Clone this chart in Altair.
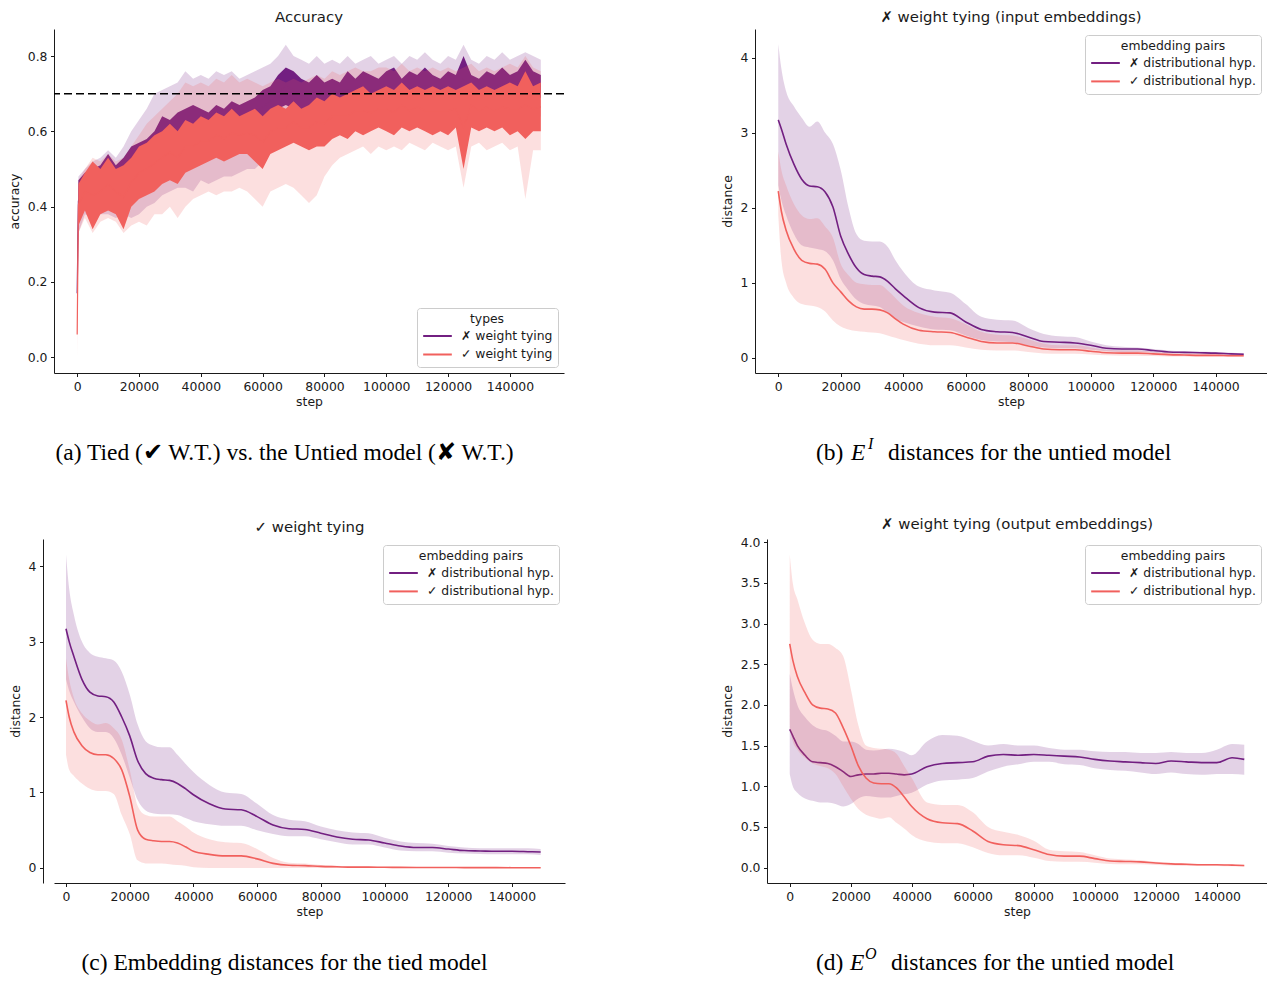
import altair as alt
import pandas as pd

PURPLE = "#721f81"
RED = "#f1605d"

# ---------------- panel (a): accuracy ----------------
A_STEPS = [0, 400] + list(range(2500, 150001, 2500))
A_SERIES = ["✗ weight tying", "✓ weight tying"]
# envelope of the (noisy) mean line, untied model
A_UNTIED_LO = [0.17, 0.36, 0.40, 0.39, 0.40, 0.41, 0.40, 0.42, 0.45, 0.47, 0.48, 0.50, 0.53, 0.55, 0.54, 0.56,
               0.55, 0.57, 0.56, 0.57, 0.58, 0.58, 0.59, 0.60, 0.61, 0.62, 0.64, 0.66, 0.67, 0.66, 0.65, 0.64,
               0.63, 0.65, 0.66, 0.67, 0.66, 0.67, 0.68, 0.67, 0.68, 0.67, 0.68, 0.68, 0.67, 0.68, 0.67, 0.68,
               0.69, 0.68, 0.67, 0.68, 0.69, 0.68, 0.67, 0.68, 0.69, 0.68, 0.67, 0.69, 0.68, 0.69]
A_UNTIED_HI = [0.17, 0.47, 0.49, 0.50, 0.51, 0.54, 0.51, 0.53, 0.56, 0.57, 0.58, 0.60, 0.64, 0.63, 0.65, 0.66,
               0.67, 0.66, 0.65, 0.67, 0.66, 0.68, 0.67, 0.68, 0.69, 0.71, 0.72, 0.75, 0.77, 0.76, 0.74, 0.73,
               0.75, 0.73, 0.74, 0.73, 0.76, 0.74, 0.76, 0.75, 0.74, 0.76, 0.77, 0.74, 0.76, 0.75, 0.77, 0.75,
               0.74, 0.76, 0.75, 0.80, 0.75, 0.74, 0.76, 0.75, 0.77, 0.75, 0.76, 0.79, 0.76, 0.75]
A_UNTIED_CI_LO = [0.10, 0.33, 0.38, 0.37, 0.38, 0.38, 0.37, 0.38, 0.37, 0.38, 0.40, 0.41, 0.43, 0.44, 0.45, 0.45,
                  0.44, 0.47, 0.46, 0.47, 0.48, 0.48, 0.49, 0.50, 0.50, 0.52, 0.55, 0.58, 0.59, 0.60, 0.60, 0.59,
                  0.60, 0.60, 0.61, 0.62, 0.61, 0.62, 0.63, 0.62, 0.63, 0.62, 0.63, 0.63, 0.62, 0.63, 0.62, 0.63,
                  0.64, 0.63, 0.62, 0.63, 0.64, 0.63, 0.62, 0.63, 0.64, 0.63, 0.62, 0.63, 0.63, 0.64]
A_UNTIED_CI_HI = [0.25, 0.48, 0.50, 0.52, 0.53, 0.55, 0.53, 0.56, 0.60, 0.63, 0.66, 0.70, 0.71, 0.72, 0.73, 0.76,
                  0.74, 0.75, 0.74, 0.76, 0.75, 0.76, 0.74, 0.75, 0.76, 0.77, 0.78, 0.80, 0.83, 0.80, 0.79, 0.78,
                  0.80, 0.78, 0.79, 0.78, 0.80, 0.78, 0.79, 0.80, 0.78, 0.79, 0.80, 0.78, 0.80, 0.79, 0.81, 0.79,
                  0.78, 0.80, 0.79, 0.83, 0.79, 0.78, 0.80, 0.79, 0.81, 0.79, 0.80, 0.81, 0.80, 0.79]
# tied model
A_TIED_LO = [0.06, 0.35, 0.39, 0.34, 0.38, 0.39, 0.38, 0.34, 0.40, 0.42, 0.43, 0.44, 0.46, 0.47, 0.46, 0.49,
             0.50, 0.51, 0.52, 0.53, 0.52, 0.53, 0.54, 0.54, 0.52, 0.50, 0.54, 0.55, 0.56, 0.57, 0.56, 0.55,
             0.56, 0.56, 0.58, 0.59, 0.58, 0.60, 0.59, 0.60, 0.61, 0.60, 0.59, 0.61, 0.60, 0.61, 0.60, 0.59,
             0.60, 0.59, 0.61, 0.50, 0.61, 0.60, 0.61, 0.60, 0.61, 0.59, 0.60, 0.58, 0.60, 0.60]
A_TIED_HI = [0.06, 0.46, 0.49, 0.52, 0.50, 0.53, 0.50, 0.51, 0.53, 0.56, 0.57, 0.59, 0.60, 0.62, 0.60, 0.63,
             0.62, 0.64, 0.63, 0.65, 0.64, 0.66, 0.64, 0.65, 0.66, 0.64, 0.66, 0.67, 0.66, 0.68, 0.66, 0.67,
             0.69, 0.68, 0.70, 0.69, 0.70, 0.71, 0.72, 0.70, 0.71, 0.72, 0.71, 0.73, 0.71, 0.72, 0.71, 0.72,
             0.71, 0.72, 0.71, 0.72, 0.73, 0.71, 0.72, 0.71, 0.72, 0.73, 0.72, 0.76, 0.72, 0.73]
A_TIED_CI_LO = [0.00, 0.33, 0.37, 0.33, 0.36, 0.37, 0.36, 0.33, 0.35, 0.36, 0.35, 0.38, 0.38, 0.40, 0.37, 0.40,
                0.42, 0.43, 0.44, 0.43, 0.44, 0.44, 0.45, 0.44, 0.42, 0.40, 0.44, 0.45, 0.46, 0.45, 0.43, 0.41,
                0.43, 0.48, 0.51, 0.53, 0.54, 0.55, 0.56, 0.54, 0.56, 0.55, 0.56, 0.55, 0.57, 0.56, 0.55, 0.57,
                0.56, 0.55, 0.56, 0.45, 0.56, 0.57, 0.55, 0.56, 0.57, 0.55, 0.56, 0.42, 0.55, 0.55]
A_TIED_CI_HI = [0.30, 0.47, 0.50, 0.53, 0.52, 0.54, 0.52, 0.53, 0.56, 0.59, 0.62, 0.64, 0.66, 0.68, 0.70, 0.73,
                0.72, 0.73, 0.72, 0.74, 0.73, 0.75, 0.73, 0.74, 0.73, 0.72, 0.73, 0.74, 0.73, 0.74, 0.73, 0.74,
                0.75, 0.74, 0.76, 0.75, 0.76, 0.77, 0.76, 0.76, 0.77, 0.77, 0.76, 0.78, 0.76, 0.77, 0.76, 0.77,
                0.76, 0.77, 0.76, 0.77, 0.78, 0.76, 0.77, 0.76, 0.77, 0.78, 0.77, 0.80, 0.77, 0.76]
A_THRESHOLD = 0.7

# ---------------- distance panels ----------------
D_STEPS = [0, 1000] + list(range(2500, 40001, 2500)) + list(range(45000, 145001, 5000)) + [149000]
D_SERIES = ["✗ distributional hyp.", "✓ distributional hyp."]

# (b) untied model, input embeddings
B_NO_MID = [3.17, 3.05, 2.85, 2.58, 2.38, 2.29, 2.28, 2.21, 2.01, 1.62, 1.38, 1.20, 1.11, 1.09, 1.08, 1.02, 0.92, 0.83,
            0.67, 0.61, 0.60, 0.48, 0.38, 0.35, 0.34, 0.28, 0.22, 0.21, 0.20, 0.17, 0.13, 0.12, 0.12, 0.10, 0.08,
            0.075, 0.07, 0.065, 0.055, 0.05]
B_NO_LO = [2.30, 2.10, 1.90, 1.65, 1.50, 1.47, 1.45, 1.42, 1.30, 1.05, 0.90, 0.78, 0.72, 0.70, 0.68, 0.60, 0.52, 0.48,
           0.42, 0.38, 0.37, 0.30, 0.24, 0.22, 0.21, 0.17, 0.14, 0.13, 0.13, 0.11, 0.09, 0.08, 0.08, 0.07, 0.06,
           0.055, 0.05, 0.045, 0.04, 0.035]
B_NO_HI = [4.18, 3.85, 3.55, 3.35, 3.20, 3.08, 3.15, 3.00, 2.85, 2.50, 2.00, 1.65, 1.56, 1.55, 1.55, 1.48, 1.30, 1.15,
           0.95, 0.90, 0.87, 0.72, 0.55, 0.51, 0.50, 0.40, 0.32, 0.29, 0.28, 0.22, 0.17, 0.15, 0.14, 0.12, 0.10,
           0.09, 0.085, 0.08, 0.07, 0.065]
B_YES_MID = [2.22, 1.95, 1.70, 1.45, 1.30, 1.26, 1.25, 1.18, 1.00, 0.88, 0.76, 0.68, 0.65, 0.65, 0.64, 0.60, 0.52, 0.45,
             0.37, 0.35, 0.34, 0.28, 0.22, 0.20, 0.20, 0.16, 0.12, 0.11, 0.11, 0.09, 0.07, 0.065, 0.065, 0.055, 0.045,
             0.04, 0.035, 0.035, 0.03, 0.03]
B_YES_LO = [1.90, 1.30, 1.00, 0.80, 0.72, 0.70, 0.68, 0.62, 0.50, 0.42, 0.38, 0.36, 0.35, 0.34, 0.33, 0.30, 0.27, 0.24,
            0.19, 0.17, 0.17, 0.14, 0.11, 0.10, 0.10, 0.08, 0.06, 0.055, 0.055, 0.045, 0.035, 0.03, 0.03, 0.025, 0.02,
            0.02, 0.015, 0.015, 0.015, 0.015]
B_YES_HI = [2.75, 2.50, 2.30, 2.05, 1.90, 1.85, 1.86, 1.75, 1.60, 1.25, 1.10, 1.00, 0.98, 0.97, 0.97, 0.90, 0.80, 0.70,
            0.60, 0.55, 0.53, 0.45, 0.35, 0.31, 0.30, 0.25, 0.19, 0.17, 0.17, 0.14, 0.11, 0.10, 0.10, 0.08, 0.07,
            0.06, 0.055, 0.05, 0.045, 0.04]

# (c) tied model
C_NO_MID = [3.17, 3.00, 2.80, 2.50, 2.33, 2.28, 2.27, 2.20, 2.00, 1.75, 1.42, 1.25, 1.19, 1.17, 1.16, 1.12, 1.05, 0.97,
            0.85, 0.78, 0.77, 0.68, 0.57, 0.52, 0.51, 0.46, 0.41, 0.38, 0.37, 0.33, 0.29, 0.27, 0.27, 0.25, 0.23,
            0.225, 0.22, 0.22, 0.215, 0.21]
C_NO_LO = [2.50, 2.35, 2.20, 2.00, 1.85, 1.80, 1.80, 1.72, 1.50, 1.20, 0.90, 0.76, 0.72, 0.71, 0.71, 0.70, 0.66, 0.62,
           0.58, 0.56, 0.56, 0.50, 0.45, 0.42, 0.42, 0.38, 0.34, 0.31, 0.31, 0.27, 0.23, 0.22, 0.22, 0.20, 0.19,
           0.185, 0.18, 0.18, 0.18, 0.17]
C_NO_HI = [4.15, 3.70, 3.35, 3.00, 2.85, 2.80, 2.78, 2.75, 2.60, 2.30, 1.90, 1.68, 1.62, 1.60, 1.60, 1.50, 1.38, 1.27,
           1.10, 1.00, 0.98, 0.85, 0.70, 0.64, 0.62, 0.55, 0.50, 0.47, 0.46, 0.40, 0.35, 0.33, 0.32, 0.29, 0.27,
           0.26, 0.26, 0.26, 0.26, 0.25]
C_YES_MID = [2.22, 2.00, 1.80, 1.62, 1.53, 1.50, 1.50, 1.45, 1.30, 0.95, 0.50, 0.38, 0.36, 0.35, 0.35, 0.33, 0.28, 0.22,
             0.18, 0.16, 0.16, 0.12, 0.06, 0.035, 0.03, 0.02, 0.015, 0.01, 0.01, 0.008, 0.007, 0.006, 0.005, 0.005,
             0.004, 0.004, 0.004, 0.003, 0.003, 0.003]
C_YES_LO = [1.50, 1.30, 1.22, 1.12, 1.05, 1.02, 1.02, 0.98, 0.70, 0.45, 0.10, 0.06, 0.06, 0.06, 0.05, 0.04, 0.03, 0.01,
            0.0, 0.0, 0.0, 0.0, 0.0, 0.0, 0.0, 0.0, 0.0, 0.0, 0.0, 0.0, 0.0, 0.0, 0.0, 0.0, 0.0, 0.0, 0.0, 0.0, 0.0,
            0.0]
C_YES_HI = [2.78, 2.50, 2.25, 2.05, 1.95, 1.90, 1.92, 1.85, 1.70, 1.30, 0.82, 0.70, 0.68, 0.68, 0.68, 0.62, 0.55, 0.47,
            0.38, 0.34, 0.33, 0.25, 0.13, 0.07, 0.06, 0.04, 0.03, 0.02, 0.02, 0.015, 0.013, 0.012, 0.011, 0.01, 0.01,
            0.01, 0.009, 0.009, 0.008, 0.008]

# (d) untied model, output embeddings
E_NO_MID = [1.70, 1.62, 1.50, 1.38, 1.30, 1.29, 1.28, 1.24, 1.18, 1.12, 1.14, 1.15, 1.15, 1.16, 1.16, 1.15, 1.14, 1.15,
            1.24, 1.28, 1.29, 1.30, 1.37, 1.39, 1.38, 1.39, 1.38, 1.37, 1.36, 1.33, 1.31, 1.30, 1.29, 1.28, 1.31,
            1.30, 1.29, 1.29, 1.35, 1.33]
E_NO_LO = [1.15, 1.00, 0.92, 0.85, 0.82, 0.80, 0.80, 0.78, 0.75, 0.78, 0.85, 0.88, 0.87, 0.86, 0.86, 0.88, 0.90, 0.92,
           1.02, 1.07, 1.08, 1.10, 1.18, 1.24, 1.27, 1.30, 1.30, 1.27, 1.26, 1.22, 1.20, 1.19, 1.17, 1.15, 1.17,
           1.15, 1.14, 1.15, 1.15, 1.14]
E_NO_HI = [2.38, 2.20, 2.00, 1.85, 1.75, 1.70, 1.68, 1.62, 1.55, 1.55, 1.52, 1.45, 1.44, 1.45, 1.46, 1.45, 1.42, 1.38,
           1.55, 1.63, 1.62, 1.56, 1.50, 1.52, 1.50, 1.50, 1.47, 1.45, 1.45, 1.43, 1.42, 1.42, 1.41, 1.41, 1.42,
           1.41, 1.41, 1.45, 1.52, 1.51]
E_YES_MID = [2.75, 2.55, 2.35, 2.15, 2.00, 1.96, 1.95, 1.90, 1.72, 1.50, 1.25, 1.10, 1.04, 1.03, 1.03, 0.98, 0.87, 0.75,
             0.60, 0.55, 0.54, 0.45, 0.32, 0.28, 0.27, 0.22, 0.16, 0.14, 0.14, 0.11, 0.08, 0.075, 0.07, 0.055, 0.045,
             0.04, 0.035, 0.035, 0.03, 0.025]
E_YES_LO = [1.70, 1.55, 1.45, 1.35, 1.28, 1.25, 1.22, 1.15, 1.00, 0.85, 0.72, 0.65, 0.62, 0.60, 0.62, 0.55, 0.48, 0.40,
            0.32, 0.30, 0.30, 0.25, 0.18, 0.15, 0.15, 0.12, 0.08, 0.07, 0.07, 0.06, 0.045, 0.04, 0.04, 0.03, 0.025,
            0.02, 0.02, 0.02, 0.015, 0.01]
E_YES_HI = [3.85, 3.50, 3.30, 3.00, 2.80, 2.75, 2.75, 2.70, 2.60, 2.20, 1.75, 1.50, 1.47, 1.46, 1.45, 1.40, 1.25, 1.10,
            0.80, 0.77, 0.77, 0.68, 0.50, 0.44, 0.40, 0.33, 0.22, 0.20, 0.19, 0.15, 0.11, 0.10, 0.09, 0.07, 0.06,
            0.05, 0.045, 0.045, 0.04, 0.03]

X_TICKS = [0, 20000, 40000, 60000, 80000, 100000, 120000, 140000]

SANS = "DejaVu Sans"
SERIF = "Liberation Serif"
SMALL = 12.4
TITLE = 14.9
CAP = 23.5
INK = "#1a1a1a"
PLOT_H = 344
CAP_Y = PLOT_H + 80


def legend(title, orient):
    return alt.Legend(title=title, orient=orient, offset=6, symbolType="stroke", symbolSize=820,
                      symbolStrokeWidth=2, labelFont=SANS, labelFontSize=SMALL, labelColor=INK,
                      titleFont=SANS, titleFontSize=SMALL, titleFontWeight="normal", titleColor=INK,
                      titleAnchor="middle", strokeColor="#cccccc", fillColor="rgba(255,255,255,0.85)",
                      padding=5, cornerRadius=3, clipHeight=15, rowPadding=3.5, titlePadding=3,
                      labelOffset=8)


def x_enc(dom):
    return alt.X("step:Q", scale=alt.Scale(domain=dom, nice=False, zero=False),
                 axis=alt.Axis(values=X_TICKS, format="d", title="step"))


def caption_layers(parts, ypos):
    out = []
    for text, xo, fs, style, dy, align in parts:
        out.append(alt.Chart(pd.DataFrame({"t": [text]})).mark_text(
            font=SERIF, fontSize=fs, fontStyle=style, align=align, baseline="middle",
            color="black", dy=dy).encode(x=alt.value(xo), y=alt.value(ypos), text="t:N"))
    return out


def title_params(text):
    return alt.TitleParams(text, font=SANS, fontSize=TITLE, fontWeight="normal", color=INK,
                           anchor="middle", frame="group", offset=4)


# ---------- build panel (a) ----------
def acc_panel(width):
    xd = [-7500, 157500]
    ys = alt.Scale(domain=[-0.042, 0.872], nice=False, zero=False)
    yax = alt.Axis(values=[0.0, 0.2, 0.4, 0.6, 0.8], format=".1f", title="accuracy")
    sc = alt.Scale(domain=A_SERIES, range=[PURPLE, RED])
    layers = []
    groups = [(A_SERIES[0], PURPLE, A_UNTIED_LO, A_UNTIED_HI, A_UNTIED_CI_LO, A_UNTIED_CI_HI),
              (A_SERIES[1], RED, A_TIED_LO, A_TIED_HI, A_TIED_CI_LO, A_TIED_CI_HI)]
    for name, col, lo, hi, clo, chi in groups:
        df = pd.DataFrame({"step": A_STEPS, "series": name, "lo": lo, "hi": hi, "clo": clo, "chi": chi})
        base = alt.Chart(df)
        layers.append(base.mark_area(opacity=0.2, color=col).encode(
            x=x_enc(xd), y=alt.Y("clo:Q", scale=ys, axis=yax), y2="chi:Q"))
        layers.append(base.mark_area(opacity=1, color=col).encode(
            x=x_enc(xd), y=alt.Y("lo:Q", scale=ys, axis=yax), y2="hi:Q"))
        layers.append(base.transform_calculate(mid="(datum.lo + datum.hi) / 2").mark_line(strokeWidth=1.2).encode(
            x=x_enc(xd), y=alt.Y("mid:Q", scale=ys, axis=yax),
            stroke=alt.Stroke("series:N", scale=sc, legend=legend("types", "bottom-right"))))
    layers.append(alt.Chart(pd.DataFrame({"v": [A_THRESHOLD]})).mark_rule(
        color="black", strokeWidth=1.5, strokeDash=[8, 4]).encode(y=alt.Y("v:Q", scale=ys, axis=yax)))
    layers += caption_layers([("(a) Tied (✔ W.T.) vs. the Untied model (✘ W.T.)", 230.5, CAP, "normal", 0, "center")],
                             CAP_Y)
    return alt.layer(*layers).properties(width=width, height=PLOT_H, title=title_params("Accuracy"))


def dist_panel(title, width, xd, ydom, yvals, yfmt, no, yes, caption, y_offset=0):
    ys = alt.Scale(domain=ydom, nice=False, zero=False)
    yax = alt.Axis(values=yvals, format=yfmt, title="distance", offset=y_offset)
    sc = alt.Scale(domain=D_SERIES, range=[PURPLE, RED])
    layers = []
    for name, col, (mid, lo, hi) in zip(D_SERIES, [PURPLE, RED], [no, yes]):
        df = pd.DataFrame({"step": D_STEPS, "series": name, "mid": mid, "lo": lo, "hi": hi})
        base = alt.Chart(df)
        layers.append(base.mark_area(opacity=0.2, color=col, interpolate="monotone").encode(
            x=x_enc(xd), y=alt.Y("lo:Q", scale=ys, axis=yax), y2="hi:Q"))
        layers.append(base.mark_line(strokeWidth=1.6, interpolate="monotone").encode(
            x=x_enc(xd), y=alt.Y("mid:Q", scale=ys, axis=yax),
            stroke=alt.Stroke("series:N", scale=sc, legend=legend("embedding pairs", "top-right"))))
    layers += caption_layers(caption, CAP_Y)
    return alt.layer(*layers).properties(width=width, height=PLOT_H, title=title_params(title))


panel_a = acc_panel(510)
panel_b = dist_panel("✗ weight tying (input embeddings)", 512, [-7450, 156450], [-0.2, 4.38], [0, 1, 2, 3, 4], "d",
                     (B_NO_MID, B_NO_LO, B_NO_HI), (B_YES_MID, B_YES_LO, B_YES_HI),
                     [("(b)", 61, CAP, "normal", 0, "left"),
                      ("E", 96, CAP, "italic", 0, "left"),
                      ("I", 113, 16, "italic", -9, "left"),
                      ("distances for the untied model", 133, CAP, "normal", 0, "left")])
panel_c = dist_panel("✓ weight tying", 511, [-3767, 156640], [-0.2, 4.36], [0, 1, 2, 3, 4], "d",
                     (C_NO_MID, C_NO_LO, C_NO_HI), (C_YES_MID, C_YES_LO, C_YES_HI),
                     [("(c) Embedding distances for the tied model", 230.5, CAP, "normal", 0, "center")],
                     y_offset=11)
panel_d = dist_panel("✗ weight tying (output embeddings)", 500, [-7450, 156450], [-0.19, 4.04],
                     [0.0, 0.5, 1.0, 1.5, 2.0, 2.5, 3.0, 3.5, 4.0], ".1f",
                     (E_NO_MID, E_NO_LO, E_NO_HI), (E_YES_MID, E_YES_LO, E_YES_HI),
                     [("(d)", 49, CAP, "normal", 0, "left"),
                      ("E", 83, CAP, "italic", 0, "left"),
                      ("O", 98, 16, "italic", -9, "left"),
                      ("distances for the untied model", 124, CAP, "normal", 0, "left")])

RES = dict(x="independent", y="independent", stroke="independent")
row1 = alt.hconcat(panel_a, panel_b, spacing=156).resolve_scale(**RES).resolve_legend(stroke="independent")
row2 = alt.hconcat(panel_c, panel_d, spacing=156).resolve_scale(**RES).resolve_legend(stroke="independent")

chart = alt.vconcat(row1, row2, spacing=52).resolve_scale(**RES).resolve_legend(
    stroke="independent"
).properties(padding={"top": 2, "left": 0, "right": 0, "bottom": 0}).configure_view(
    stroke=None
).configure_axis(
    grid=False, domainColor=INK, domainWidth=1, tickColor=INK, tickSize=3.5, tickWidth=1,
    labelFont=SANS, labelFontSize=SMALL, labelColor=INK, labelPadding=3.5,
    titleFont=SANS, titleFontSize=SMALL, titleFontWeight="normal", titleColor=INK
).configure_axisX(titlePadding=3).configure_axisY(titlePadding=6)

chart.save("out.html", embed_options={"renderer": "svg", "actions": False})
